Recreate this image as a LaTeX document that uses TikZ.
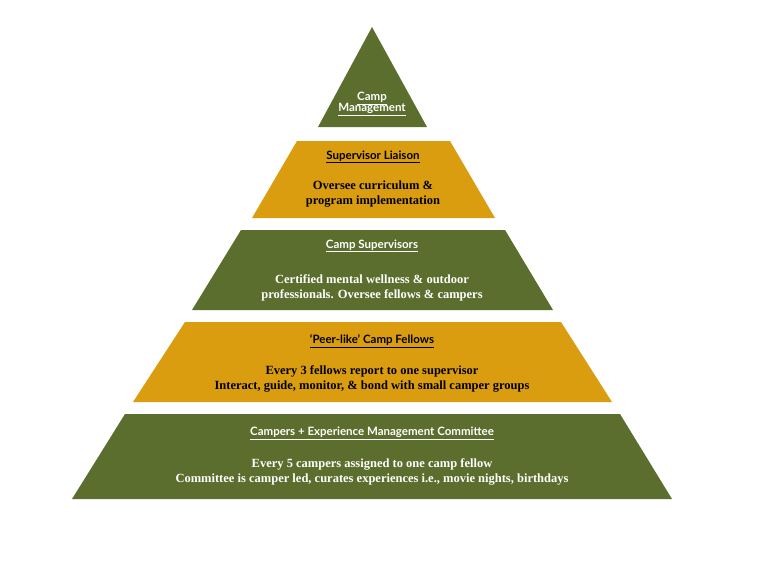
\documentclass[tikz,border=0pt]{standalone}
\usepackage{fontspec}
\setmainfont{Liberation Serif}
\newfontfamily\headf{Lato}
\definecolor{pgreen}{HTML}{5B6E2D}
\definecolor{pgold}{HTML}{DA9D0F}
\begin{document}
\begin{tikzpicture}[x=1pt,y=-1pt,
  hd/.style={font=\headf\bfseries\fontsize{11.5}{13}\selectfont},
  bd/.style={font=\bfseries\fontsize{12.5}{15}\selectfont,align=center}]
\useasboundingbox (0,0) rectangle (768,576);
\fill[pgreen] (372,27) -- (427,127) -- (318,127) -- cycle;
\fill[pgold] (297,141) -- (450,141) -- (495,218) -- (252,218) -- cycle;
\fill[pgreen] (241,230) -- (505,230) -- (553,310) -- (192,310) -- cycle;
\fill[pgold] (185,322) -- (561,322) -- (612,402) -- (133,402) -- cycle;
\fill[pgreen] (125,414) -- (620,414) -- (672,499) -- (72,499) -- cycle;
\node[hd,white,align=center] (t1) at (372,104) {\underline{Camp}\\[-2pt]\underline{Management}};
\node[hd] (h2) at (373,157) {\underline{Supervisor Liaison}};
\node[bd] (b2) at (373,194) {Oversee curriculum \&\\program implementation};
\node[hd,white] (h3) at (372,246) {\underline{Camp Supervisors}};
\node[bd,white] (b3) at (372,288) {Certified mental wellness \& outdoor\\professionals. Oversee fellows \& campers};
\node[hd] (h4) at (372,341) {\underline{‘Peer-like’ Camp Fellows}};
\node[bd] (b4) at (372,379) {Every 3 fellows report to one supervisor\\Interact, guide, monitor, \& bond with small camper groups};
\node[hd,white] (h5) at (372,433) {\underline{Campers + Experience Management Committee}};
\node[bd,white] (b5) at (372,472) {Every 5 campers assigned to one camp fellow\\Committee is camper led, curates experiences i.e., movie nights, birthdays};
\end{tikzpicture}
\end{document}
